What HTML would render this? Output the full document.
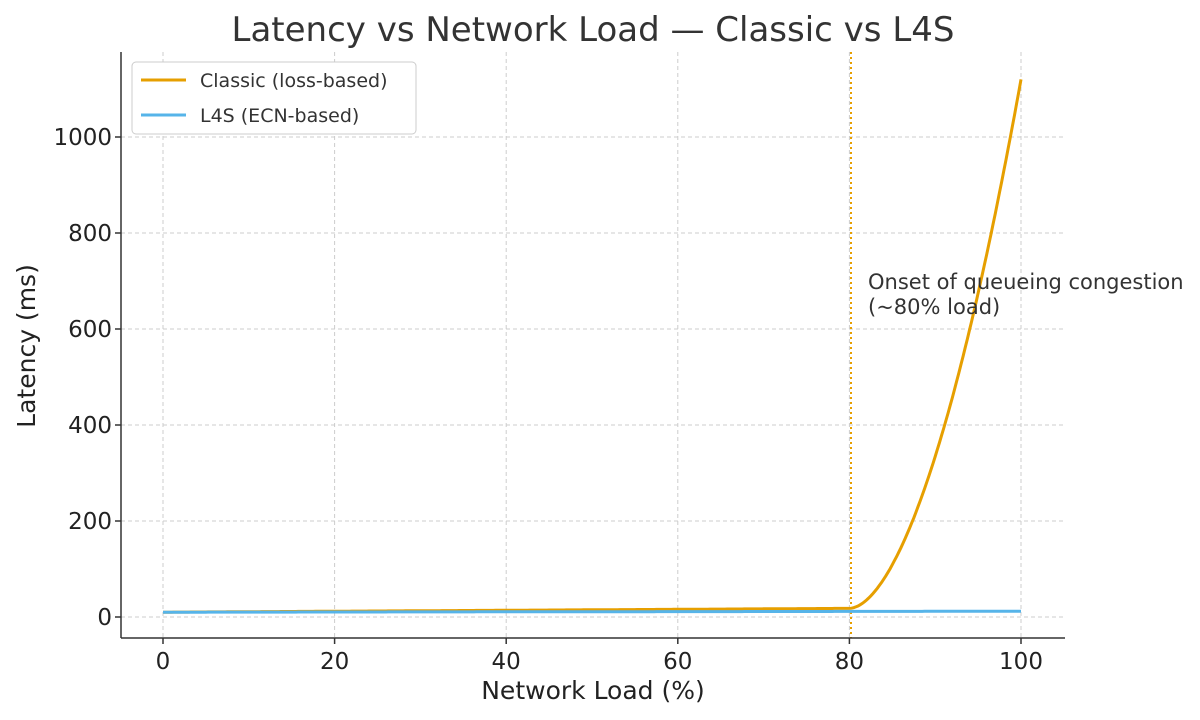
<!DOCTYPE html><html><head><meta charset="utf-8"><style>body{margin:0;background:#fff}svg{display:block;font-family:"DejaVu Sans","Liberation Sans",sans-serif}</style></head><body>
<svg id="s" width="1200" height="720" viewBox="0 0 1200 720">
<text x="593" y="41" text-anchor="middle" font-size="34" fill="#333">Latency vs Network Load — Classic vs L4S</text>
<g id="grid" stroke="#ccc" stroke-width="1" stroke-dasharray="4,3"></g>
<line x1="851" y1="52" x2="851" y2="638" stroke="#E69F00" stroke-width="2" stroke-dasharray="2,3"/>
<path id="cl" fill="none" stroke="#E69F00" stroke-width="3"/>
<path id="l4" fill="none" stroke="#56B4E9" stroke-width="3"/>
<line x1="121" y1="52" x2="121" y2="638" stroke="#333" stroke-width="1.5"/>
<line x1="121" y1="638" x2="1065" y2="638" stroke="#333" stroke-width="1.5"/>
<g id="ticks" font-size="23" fill="#222"></g>
<text x="868" y="289" font-size="21" fill="#333">Onset of queueing congestion</text>
<text x="868" y="314" font-size="21" fill="#333">(~80% load)</text>
<text x="593" y="699" text-anchor="middle" font-size="25" fill="#222">Network Load (%)</text>
<text transform="translate(35,346) rotate(-90)" text-anchor="middle" font-size="25" fill="#222">Latency (ms)</text>
<rect x="132" y="62" width="284" height="72" rx="4" fill="#fff" stroke="#ccc"/>
<line x1="141" y1="80" x2="186" y2="80" stroke="#E69F00" stroke-width="3"/>
<text x="200" y="87" font-size="19" fill="#333">Classic (loss-based)</text>
<line x1="141" y1="115" x2="186" y2="115" stroke="#56B4E9" stroke-width="3"/>
<text x="200" y="122" font-size="19" fill="#333">L4S (ECN-based)</text>
</svg>
<script>
var X=x=>163+8.58*x,Y=v=>617-0.48*v,ns="http://www.w3.org/2000/svg";
function el(p,t,a,txt){var e=document.createElementNS(ns,t);for(var k in a)e.setAttribute(k,a[k]);if(txt!=null)e.textContent=txt;document.getElementById(p).appendChild(e);}
for(var x=0;x<=100;x+=20){el("grid","line",{x1:X(x),x2:X(x),y1:52,y2:638});el("ticks","line",{x1:X(x),x2:X(x),y1:638,y2:644,stroke:"#333","stroke-width":1.5});el("ticks","text",{x:X(x),y:669,"text-anchor":"middle"},x);}
for(var v=0;v<=1000;v+=200){el("grid","line",{x1:121,x2:1065,y1:Y(v),y2:Y(v)});el("ticks","line",{x1:115,x2:121,y1:Y(v),y2:Y(v),stroke:"#333","stroke-width":1.5});el("ticks","text",{x:112,y:Y(v)+8,"text-anchor":"end"},v);}
var d="",d2="";
for(var i=0;i<=400;i++){var x=i/4,v=x<=80?10+8*x/80:18+1102*Math.pow((x-80)/20,1.8);d+=(i?"L":"M")+X(x).toFixed(1)+","+Y(v).toFixed(1);d2+=(i?"L":"M")+X(x).toFixed(1)+","+Y(10+2*x/100).toFixed(1);}
document.getElementById("cl").setAttribute("d",d);document.getElementById("l4").setAttribute("d",d2);
</script>
</body></html>
